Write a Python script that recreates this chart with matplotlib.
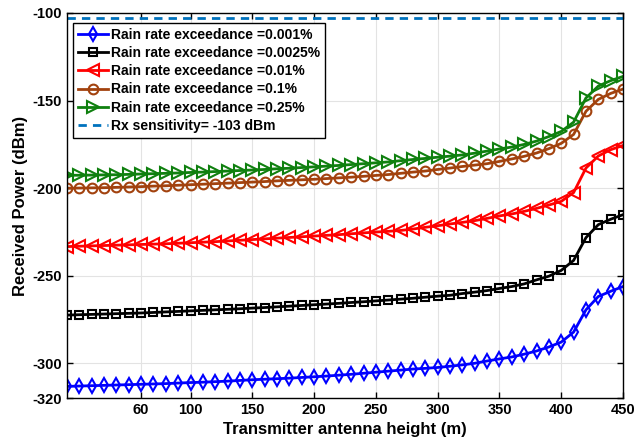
import numpy as np
import matplotlib
matplotlib.use("Agg")
import matplotlib.pyplot as plt

plt.rcParams['font.family'] = ['Liberation Sans', 'DejaVu Sans']
plt.rcParams['font.weight'] = 'bold'
plt.rcParams['axes.unicode_minus'] = False

# transmitter height (m)
height = np.arange(0, 451, 10)

# received power (dBm) for each rain rate exceedance
p_0001 = [-313.1, -312.9, -312.7, -312.5, -312.3, -312.1, -311.9, -311.7, -311.5, -311.2,
          -310.9, -310.7, -310.4, -310.1, -309.7, -309.3, -309.0, -308.7, -308.4, -308.0,
          -307.6, -307.2, -306.7, -306.2, -305.6, -305.0, -304.4, -303.8, -303.2, -302.8,
          -302.3, -301.6, -300.8, -299.9, -298.6, -297.4, -296.3, -294.7, -292.9, -290.6,
          -287.8, -282.1, -269.4, -261.8, -258.8, -256.1]
p_00025 = [-272.4, -272.2, -272.0, -271.8, -271.6, -271.4, -271.2, -270.9, -270.6, -270.3,
           -270.0, -269.7, -269.4, -269.1, -268.8, -268.4, -268.1, -267.7, -267.3, -266.9,
           -266.5, -266.1, -265.7, -265.2, -264.8, -264.3, -263.8, -263.3, -262.8, -262.2,
           -261.6, -261.1, -260.1, -259.3, -258.4, -257.2, -256.1, -254.6, -252.3, -250.2,
           -246.9, -241.2, -228.2, -220.8, -217.7, -215.1]
p_001 = [-233.3, -233.1, -232.9, -232.7, -232.5, -232.3, -232.1, -231.9, -231.7, -231.4,
         -231.1, -230.8, -230.5, -230.1, -229.7, -229.3, -228.9, -228.5, -228.1, -227.7,
         -227.3, -226.9, -226.5, -226.0, -225.5, -225.0, -224.6, -224.1, -223.3, -222.3,
         -221.4, -220.4, -219.5, -218.5, -217.2, -215.8, -214.7, -213.2, -211.5, -209.6,
         -207.5, -202.5, -188.5, -181.6, -178.0, -175.6]
p_01 = [-200.0, -199.9, -199.8, -199.7, -199.5, -199.3, -199.1, -198.8, -198.6, -198.3,
        -198.0, -197.7, -197.4, -197.1, -196.8, -196.5, -196.2, -195.8, -195.5, -195.2,
        -194.9, -194.5, -194.1, -193.7, -193.2, -192.7, -192.2, -191.5, -190.8, -190.2,
        -189.3, -188.5, -187.6, -186.8, -186.0, -184.7, -183.3, -181.8, -179.9, -177.4,
        -174.4, -169.3, -156.1, -149.3, -145.9, -143.4]
p_025 = [-192.6, -192.6, -192.5, -192.4, -192.3, -192.1, -191.9, -191.7, -191.5, -191.3,
         -191.0, -190.8, -190.5, -190.2, -189.9, -189.6, -189.3, -188.9, -188.6, -188.2,
         -187.8, -187.4, -187.0, -186.5, -186.0, -185.5, -185.0, -184.3, -183.6, -183.0,
         -182.3, -181.7, -181.0, -180.0, -178.8, -177.6, -176.5, -175.0, -173.1, -170.5,
         -167.6, -162.3, -148.5, -141.7, -138.6, -136.2]
rx_sensitivity = -103

labels = ['Rain rate exceedance =0.001%', 'Rain rate exceedance =0.0025%',
          'Rain rate exceedance =0.01%', 'Rain rate exceedance =0.1%',
          'Rain rate exceedance =0.25%']
xticks = [60, 100, 150, 200, 250, 300, 350, 400, 450]
yticks = [-320, -300, -250, -200, -150, -100]

series = [
    (p_0001, '#0000ff', 'd', 7.5),
    (p_00025, '#000000', 's', 5.5),
    (p_001, '#ff0000', '<', 8),
    (p_01, '#a2420e', 'o', 7),
    (p_025, '#0f800f', '>', 8),
]

fig = plt.figure(figsize=(6.36, 4.48), dpi=100)
ax = fig.add_axes([0.1053, 0.1105, 0.8743, 0.8605])

for (vals, col, mk, ms), lab in zip(series, labels):
    ax.plot(height, vals, color=col, marker=mk, markersize=ms, mfc='none',
            mew=1.5, lw=2, label=lab)
ax.axhline(rx_sensitivity, color='#0072bd', ls=(0, (3, 2.2)), lw=2,
           label='Rx sensitivity= -103 dBm')

ax.set_xlim(0, 450)
ax.set_ylim(-320, -100)
ax.set_xticks(xticks)
ax.set_yticks(yticks)
ax.tick_params(direction='in', top=True, right=True, labelsize=10.5, length=4, width=1)
for t in ax.get_xticklabels() + ax.get_yticklabels():
    t.set_fontweight('bold')
ax.grid(True, color='#e3e3e3', lw=0.8)
ax.set_axisbelow(True)
for s in ax.spines.values():
    s.set_linewidth(1)

ax.set_xlabel('Transmitter antenna height (m)', fontsize=12, fontweight='bold', labelpad=3)
ax.set_ylabel('Received Power (dBm)', fontsize=12, fontweight='bold', labelpad=3)

leg = ax.legend(loc='upper left', bbox_to_anchor=(0.0108, 0.974), borderaxespad=0,
                prop={'size': 10, 'weight': 'bold'}, handlelength=2.2,
                handletextpad=0.2, labelspacing=0.3, borderpad=0.35,
                fancybox=False, framealpha=1, edgecolor='black')
leg.get_frame().set_linewidth(1)

fig.savefig('out.png', dpi=100)
